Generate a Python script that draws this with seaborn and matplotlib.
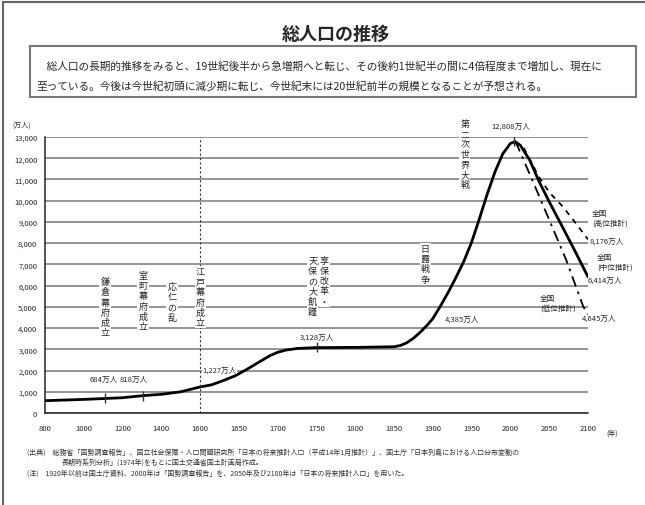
import numpy as np
import pandas as pd
import seaborn as sns
import matplotlib.pyplot as plt
from matplotlib.patches import Rectangle

# x axis: uneven years drawn at even spacing
tick_years = [800, 1000, 1200, 1400, 1600, 1650, 1700, 1750, 1800, 1850,
              1900, 1950, 2000, 2050, 2100]
y_ticks = list(range(0, 13001, 1000))

# total population (10k persons)
hist_years = [800, 900, 1000, 1110, 1200, 1305, 1400, 1500, 1600, 1615, 1630,
              1645, 1660, 1675, 1690, 1700, 1710, 1725, 1750, 1800, 1850,
              1858, 1866, 1875, 1885, 1893, 1900, 1910, 1920, 1930, 1940,
              1950, 1960, 1970, 1980, 1990, 2000, 2006]
hist_pop = [580, 610, 640, 684, 720, 818, 880, 1000, 1227, 1330, 1530,
            1750, 2050, 2380, 2700, 2860, 2960, 3040, 3080, 3090, 3120,
            3180, 3300, 3520, 3850, 4150, 4450, 5050, 5700, 6400, 7150,
            8050, 9150, 10300, 11350, 12200, 12700, 12780]

proj_years_high = [2006, 2017, 2037, 2050, 2068, 2085, 2100]
proj_high = [12780, 12500, 11100, 10400, 9700, 8900, 8176]
proj_years_mid = [2006, 2013, 2025, 2037, 2050, 2068, 2085, 2100]
proj_mid = [12780, 12600, 11900, 10900, 9950, 8700, 7500, 6414]
proj_years_low = [2006, 2010, 2029, 2050, 2072, 2094, 2100]
proj_low = [12780, 12500, 10900, 9100, 7200, 5000, 4645]

# marked points
mark_years = [1110, 1305, 1750, 2005]
mark_pop = [684, 818, 3128, 12808]

sns.set_style('white')
plt.rcParams['font.family'] = ['Noto Sans CJK JP', 'DejaVu Sans']

W, H = 645, 506
fig = plt.figure(figsize=(W / 100, H / 100), dpi=100)


def px(x, y):
    return x / W, 1 - y / H


ax = fig.add_axes([45 / W, (H - 414) / H, 543 / W, 276 / H])

hist = pd.DataFrame({'year': hist_years, 'pop': hist_pop})
sns.lineplot(data=hist, x='year', y='pop', color='black', lw=2, ax=ax)
sns.lineplot(x=proj_years_high, y=proj_high, color='black', lw=1.3,
             linestyle=(0, (3, 3)), ax=ax)
sns.lineplot(x=proj_years_mid, y=proj_mid, color='black', lw=2, ax=ax)
sns.lineplot(x=proj_years_low, y=proj_low, color='black', lw=1.3,
             linestyle=(0, (6, 3, 1.5, 3)), ax=ax)
sns.scatterplot(x=mark_years, y=mark_pop, marker='|', s=60, color='#333',
                linewidth=1, ax=ax, zorder=4)

idx = np.arange(len(tick_years), dtype=float)
ax.set_xscale('function', functions=(lambda v: np.interp(v, tick_years, idx),
                                     lambda v: np.interp(v, idx, tick_years)))
ax.set_xlim(800, 2100)
ax.set_ylim(0, 13000)
ax.set_xticks(tick_years)
ax.set_xticklabels([str(t) for t in tick_years], fontsize=5.5)
ax.set_yticks(y_ticks)
ax.set_yticklabels([f'{t:,}' for t in y_ticks], fontsize=5.5)
ax.tick_params(axis='x', direction='in', length=3, pad=8, color='#333')
ax.tick_params(axis='y', direction='inout', length=3, pad=4, color='#333')
ax.minorticks_off()
ax.set_xlabel('')
ax.set_ylabel('')
ax.set_axisbelow(True)
ax.grid(axis='y', color='#8c8c8c', lw=1.3)
ax.grid(axis='x', visible=False)
for s in ['top', 'right']:
    ax.spines[s].set_visible(False)
for s in ['left', 'bottom']:
    ax.spines[s].set_color('#222')
    ax.spines[s].set_linewidth(1.1)
ax.axvline(1600, color='#333', lw=0.8, ls=(0, (2, 2)))


def vtext(year, top, s):
    ax.text(year, top, '\n'.join(s), ha='center', va='top', fontsize=6.5,
            linespacing=1.17, bbox=dict(fc='white', ec='none', pad=0.8))


vtext(1109, 6400, '鎌倉幕府成立')
vtext(1305, 6690, '室町幕府成立')
vtext(1455, 6170, '応仁の乱')
vtext(1600, 6880, '江戸幕府成立')
vtext(1760, 7400, '享保改革・')
vtext(1745, 7400, '天保の大飢饉')
vtext(1890, 7960, '日露戦争')
vtext(1941, 13850, '第二次世界大戦')

lab = dict(fontsize=5.5, ha='center', va='center')
ax.text(1104, 1600, '684万人', **lab)
ax.text(1259, 1600, '818万人', **lab)
ax.text(1625, 2050, '1,227万人', bbox=dict(fc='white', ec='none', pad=0.5), **lab)
ax.text(1750, 3600, '3,128万人', **lab)
ax.text(1915, 4430, '4,385万人', fontsize=5.5, ha='left', va='center')
ax.text(2001, 13550, '12,808万人', **lab)

side = dict(fontsize=5.5, ha='left', va='center', linespacing=1.2)
fig.text(*px(592, 219), '全国\n(高位推計)', **side)
fig.text(*px(590, 242), '8,176万人', **side)
fig.text(*px(597, 263), '全国\n(中位推計)', **side)
fig.text(*px(588, 281), '6,414万人', **side)
fig.text(*px(540, 304), '全国\n(低位推計)', **side)
fig.text(*px(582, 319), '4,645万人', **side)

fig.text(*px(22, 126), '(万人)', fontsize=5, ha='center', va='center')
fig.text(*px(612, 434), '(年)', fontsize=5, ha='center', va='center')

# title and explanation box
fig.text(*px(336, 34), '総人口の推移', fontsize=13, fontweight='bold',
         ha='center', va='center')
fig.patches.append(Rectangle(px(30, 98), 606 / W, 51 / H, transform=fig.transFigure,
                             fill=False, ec='#777', lw=1.5))
fig.text(*px(36, 66), '　総人口の長期的推移をみると、19世紀後半から急増期へと転じ、'
         'その後約1世紀半の間に4倍程度まで増加し、現在に', fontsize=7.7, va='center')
fig.text(*px(36, 86), '至っている。今後は今世紀初頭に減少期に転じ、'
         '今世紀末には20世紀前半の規模となることが予想される。', fontsize=7.7, va='center')

# outer frame (left and top edges)
fig.patches.append(Rectangle(px(3, 520), 1.2, (517) / H, transform=fig.transFigure,
                             fill=False, ec='#666', lw=1.5))

note = dict(fontsize=5, va='center', color='#333')
fig.text(*px(27, 453), '(出典)　総務省「国勢調査報告」、国立社会保障・人口問題研究所「日本の将来推計人口（平成14年1月推計）」'
         '、国土庁「日本列島における人口分布変動の', **note)
fig.text(*px(62, 463), '長期時系列分析」(1974年)をもとに国土交通省国土計画局作成。', **note)
fig.text(*px(27, 474), '(注)　1920年以前は国土庁資料、2000年は「国勢調査報告」を、'
         '2050年及び2100年は「日本の将来推計人口」を用いた。', **note)

fig.savefig('out.png', dpi=100)
